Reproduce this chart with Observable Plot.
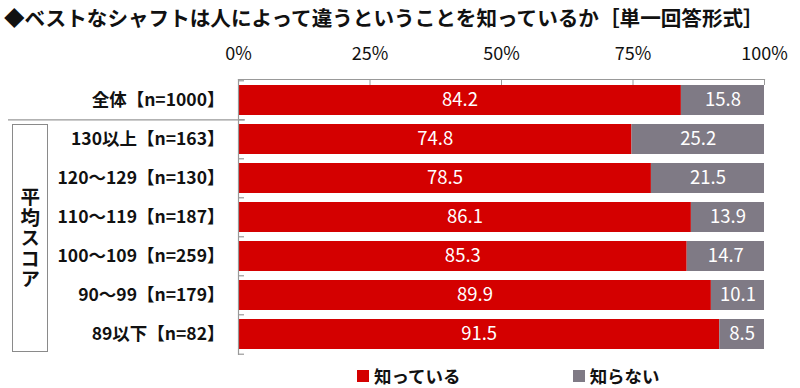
<!DOCTYPE html>
<html>
<head>
<meta charset="utf-8">
<script src="https://cdn.jsdelivr.net/npm/d3@7"></script>
<script src="https://cdn.jsdelivr.net/npm/@observablehq/plot@0.6"></script>
<style>
  html, body { margin: 0; padding: 0; background: #fff; }
  #wrap { position: relative; width: 800px; height: 388px; font-family: "Noto Sans CJK JP", "Noto Sans", sans-serif; color: #111; }
  #title { position: absolute; left: 4px; top: 2px; font-size: 20.6px; font-weight: bold; white-space: nowrap; letter-spacing: 0px; }
  #group { position: absolute; left: 12px; top: 124px; width: 36px; height: 228px; border: 1.3px solid #8a8a8a; box-sizing: border-box;
           display: flex; align-items: center; justify-content: center; }
  #group span { writing-mode: vertical-rl; font-size: 19.5px; font-weight: bold; letter-spacing: 1px; line-height: 1; }
  #legend { position: absolute; top: 363px; left: 357px; font-size: 17.5px; font-weight: bold; display: flex; align-items: center; white-space: nowrap; }
  #legend .sw { display: inline-block; width: 12px; height: 12px; margin-right: 5px; }
  #legend .item { display: flex; align-items: center; }
  svg { display: block; }
</style>
</head>
<body>
<div id="wrap">
  <div id="chart"></div>
  <div id="title">◆ベストなシャフトは人によって違うということを知っているか［単一回答形式］</div>
  <div id="group"><span>平均スコア</span></div>
  <div id="legend"></div>
</div>
<script>
const categories = ["全体【n=1000】","130以上【n=163】","120～129【n=130】","110～119【n=187】","100～109【n=259】","90～99【n=179】","89以下【n=82】"];
const seriesNames = ["知っている","知らない"];
const knowValues = [84.2, 74.8, 78.5, 86.1, 85.3, 89.9, 91.5];
const dontKnowValues = [15.8, 25.2, 21.5, 13.9, 14.7, 10.1, 8.5];
const xTicks = [0, 25, 50, 75, 100];
const colors = ["#d40000", "#7f7a85"];

const data = [];
categories.forEach((c, i) => {
  data.push({cat: c, series: seriesNames[0], value: knowValues[i]});
  data.push({cat: c, series: seriesNames[1], value: dontKnowValues[i]});
});

const W = 800, H = 388, mL = 238, mR = 36, mT = 79, mB = 33;
const step = (H - mT - mB) / categories.length;
const pxPerUnit = (W - mL - mR) / 100;

const chart = Plot.plot({
  width: W, height: H,
  marginLeft: mL, marginRight: mR, marginTop: mT, marginBottom: mB,
  style: {fontFamily: '"Noto Sans CJK JP", sans-serif', background: "transparent", overflow: "visible"},
  x: {domain: [0, 100], ticks: xTicks},
  y: {domain: categories, paddingInner: 0.24, paddingOuter: 0.12},
  color: {domain: seriesNames, range: colors},
  marks: [
    Plot.barX(data, Plot.stackX({x: "value", y: "cat", fill: "series", order: seriesNames})),
    Plot.text(data, Plot.stackX({x: "value", y: "cat", z: "series", order: seriesNames,
      text: d => d.value.toFixed(1), fill: "white", fontSize: 18.5})),
    Plot.frame({anchor: "top", stroke: "#999", strokeWidth: 1.2}),
    Plot.ruleX([0], {stroke: "#999", strokeWidth: 1.2}),
    Plot.axisX({anchor: "top", ticks: xTicks, tickSize: 0, tickPadding: 20, fontSize: 18,
      tickFormat: d => d + "%", label: null, fill: "#111"}),
    Plot.axisX({anchor: "top", ticks: xTicks, tickSize: 5, dy: 5, tickFormat: () => "", label: null, stroke: "#999"}),
    // band boundary ticks on the left axis
    Plot.ruleY(categories, {y: d => d, x1: 0, x2: 6 / pxPerUnit, dy: -step / 2, stroke: "#999", strokeWidth: 1.2}),
    Plot.ruleY(categories.slice(-1), {y: d => d, x1: 0, x2: 6 / pxPerUnit, dy: step / 2, stroke: "#999", strokeWidth: 1.2}),
    // separator between total and score groups
    Plot.ruleY(categories.slice(1, 2), {y: d => d, x1: -230 / pxPerUnit, x2: 7 / pxPerUnit, dy: -step / 2, stroke: "#999", strokeWidth: 1.2}),
    Plot.axisY({tickSize: 0, tickPadding: 14, fontSize: 17.5, fontWeight: "bold", label: null, fill: "#111"})
  ]
});
document.getElementById("chart").appendChild(chart);

const legend = document.getElementById("legend");
seriesNames.forEach((s, i) => {
  const item = document.createElement("span");
  item.className = "item";
  item.style.marginRight = i === 0 ? "112px" : "0";
  item.innerHTML = `<span class="sw" style="background:${colors[i]}"></span>${s}`;
  legend.appendChild(item);
});
</script>
</body>
</html>
